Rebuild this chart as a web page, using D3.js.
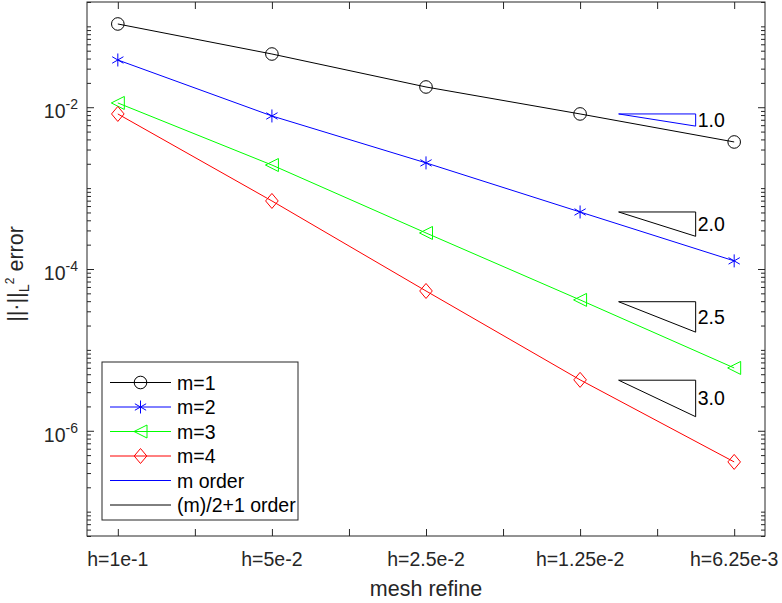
<!DOCTYPE html>
<html><head><meta charset="utf-8">
<script src="https://cdn.jsdelivr.net/npm/d3@7"></script>
<style>
body{margin:0;background:#fff}
svg{display:block}
text{font-family:"Liberation Sans",Arial,Helvetica,sans-serif;fill:#262626}
</style>
</head><body>
<svg id="c" width="782" height="603"></svg>
<script>
// ---------- data ----------
const categories = ["h=1e-1","h=5e-2","h=2.5e-2","h=1.25e-2","h=6.25e-3"];
const xPositions = [1,2,3,4,5];
const m1 = [0.107, 0.0455, 0.0178, 0.00826, 0.00372];
const m2 = [0.0384, 0.0078, 0.00205, 5.07e-4, 1.26e-4];
const m3 = [0.0113, 1.93e-3, 2.79e-4, 4.15e-5, 5.98e-6];
const m4 = [8.26e-3, 6.94e-4, 5.35e-5, 4.26e-6, 4.12e-7];
const seriesNames = ["m=1","m=2","m=3","m=4"];
const seriesColors = ["#000000","#0000ff","#00ff00","#ff0000"];
const seriesMarkers = ["circle","star","triangleLeft","diamond"];
const slopeValues = [1.0, 2.0, 2.5, 3.0];
const slopeLabels = ["1.0","2.0","2.5","3.0"];
const slopeTops = [8.26e-3, 5.07e-4, 3.94e-5, 4.22e-6];
const slopeColors = ["#0000ff","#000000","#000000","#000000"];
const slopeX = [4.25, 4.75];
const refNames = ["m order","(m)/2+1 order"];
const refColors = ["#0000ff","#000000"];
const xTickValues = [1,1.5,2,2.5,3,3.5,4,4.5,5];
const yTickValues = [1e-6, 1e-4, 1e-2];
const yTickExponents = ["-6","-4","-2"];
const xDomain = [0.8, 5.2];
const yDomain = [5e-8, 0.2];

// ---------- layout ----------
const L = 87, R = 765, T = 2, B = 536;
const axisColor = "#262626";
const FS = 19.5;
const LFS = 21.5;

const svg = d3.select("#c");
const x = d3.scaleLinear().domain(xDomain).range([L, R]);
const y = d3.scaleLog().domain(yDomain).range([B, T]);

// minor y ticks
const minorY = [];
for (let e = -8; e <= 0; e++) for (let k = 1; k <= 9; k++) {
  const v = k * Math.pow(10, e);
  if (v >= yDomain[0] && v <= yDomain[1] && !yTickValues.some(t => Math.abs(t - v) / v < 1e-9)) minorY.push(v);
}

const bottomAxis = d3.axisBottom(x).tickValues(xTickValues).tickSizeInner(-7).tickSizeOuter(0).tickFormat("");
const topAxis = d3.axisTop(x).tickValues(xTickValues).tickSizeInner(-7).tickSizeOuter(0).tickFormat("");
const leftMajor = d3.axisLeft(y).tickValues(yTickValues).tickSizeInner(-7).tickSizeOuter(0).tickFormat("");
const rightMajor = d3.axisRight(y).tickValues(yTickValues).tickSizeInner(-7).tickSizeOuter(0).tickFormat("");
const leftMinor = d3.axisLeft(y).tickValues(minorY).tickSizeInner(-4).tickSizeOuter(0).tickFormat("");
const rightMinor = d3.axisRight(y).tickValues(minorY).tickSizeInner(-4).tickSizeOuter(0).tickFormat("");
[[bottomAxis, `translate(0,${B})`],[topAxis, `translate(0,${T})`],[leftMajor, `translate(${L},0)`],
 [rightMajor, `translate(${R},0)`],[leftMinor, `translate(${L},0)`],[rightMinor, `translate(${R},0)`]].forEach(([a, t]) => {
  const g = svg.append("g").attr("transform", t).call(a);
  g.select(".domain").remove();
  g.selectAll("line").attr("stroke", axisColor).attr("stroke-width", 1);
});
svg.append("rect").attr("x", L).attr("y", T).attr("width", R - L).attr("height", B - T)
  .attr("fill", "none").attr("stroke", axisColor).attr("stroke-width", 1);

// x tick labels
svg.append("g").selectAll("text").data(categories).join("text")
  .attr("x", (d, i) => x(xPositions[i])).attr("y", B + 30)
  .attr("text-anchor", "middle").attr("font-size", FS).text(d => d);

// y tick labels
const yl = svg.append("g").selectAll("text").data(yTickValues).join("text")
  .attr("x", L - 9).attr("y", d => y(d) + 11).attr("text-anchor", "end").attr("font-size", FS);
yl.append("tspan").text("10");
yl.append("tspan").attr("font-size", 14).attr("dy", -9).text((d, i) => yTickExponents[i]);

// axis titles
svg.append("text").attr("x", (L + R) / 2).attr("y", 596).attr("text-anchor", "middle")
  .attr("font-size", LFS).text("mesh refine");
const yt = svg.append("text").attr("transform", `translate(23,${(T + B) / 2 + 5}) rotate(-90)`)
  .attr("text-anchor", "middle").attr("font-size", LFS);
yt.append("tspan").text("||·||");
yt.append("tspan").attr("font-size", 14.5).attr("dy", 6).text("L");
yt.append("tspan").attr("font-size", 12).attr("dy", -15).text("2");
yt.append("tspan").attr("dy", 9).text(" error");

// markers
function markerPath(type) {
  switch (type) {
    case "circle": return d3.symbol(d3.symbolCircle, Math.PI * 6.3 * 6.3)();
    case "star": {
      const r = 6.5, a = Math.cos(Math.PI / 6) * r, b = Math.sin(Math.PI / 6) * r;
      return `M0,${-r}L0,${r}M${-a},${-b}L${a},${b}M${-a},${b}L${a},${-b}`;
    }
    case "triangleLeft": return "M-6.5,0L6.5,-6.5L6.5,6.5Z";
    case "diamond": return "M0,-7.5L6.3,0L0,7.5L-6.3,0Z";
  }
}

const series = [m1, m2, m3, m4];
const line = d3.line().x((d, i) => x(xPositions[i])).y(d => y(d));
series.forEach((s, si) => {
  svg.append("path").attr("d", line(s)).attr("fill", "none")
    .attr("stroke", seriesColors[si]).attr("stroke-width", 1);
  svg.append("g").selectAll("path").data(s).join("path")
    .attr("transform", (d, i) => `translate(${x(xPositions[i])},${y(d)})`)
    .attr("d", markerPath(seriesMarkers[si])).attr("fill", "none")
    .attr("stroke", seriesColors[si]).attr("stroke-width", 1);
});

// slope triangles
slopeValues.forEach((sl, i) => {
  const top = slopeTops[i];
  const bot = top / Math.pow(Math.SQRT2, sl);
  const x0 = x(slopeX[0]), x1 = x(slopeX[1]), yT = y(top), yB = y(bot);
  svg.append("path").attr("d", `M${x0},${yT}L${x1},${yT}L${x1},${yB}Z`)
    .attr("fill", "none").attr("stroke", slopeColors[i]).attr("stroke-width", 1);
  svg.append("text").attr("x", x1 + 2).attr("y", (yT + yB) / 2 + 7)
    .attr("font-size", FS).style("fill", "#000").text(slopeLabels[i]);
});

// legend
const lg = svg.append("g");
lg.append("rect").attr("x", 102).attr("y", 362).attr("width", 196).attr("height", 158)
  .attr("fill", "#fff").attr("stroke", axisColor).attr("stroke-width", 1);
const legendItems = seriesNames.map((n, i) => ({ name: n, color: seriesColors[i], marker: seriesMarkers[i] }))
  .concat(refNames.map((n, i) => ({ name: n, color: refColors[i], marker: null })));
legendItems.forEach((it, i) => {
  const yy = 382.5 + i * 24.5;
  lg.append("line").attr("x1", 110).attr("x2", 171).attr("y1", yy).attr("y2", yy)
    .attr("stroke", it.color).attr("stroke-width", 1);
  if (it.marker) lg.append("path").attr("transform", `translate(140.5,${yy})`)
    .attr("d", markerPath(it.marker)).attr("fill", "none").attr("stroke", it.color).attr("stroke-width", 1);
  lg.append("text").attr("x", 177).attr("y", yy + 7).attr("font-size", FS).style("fill", "#000").text(it.name);
});
</script>
</body></html>
